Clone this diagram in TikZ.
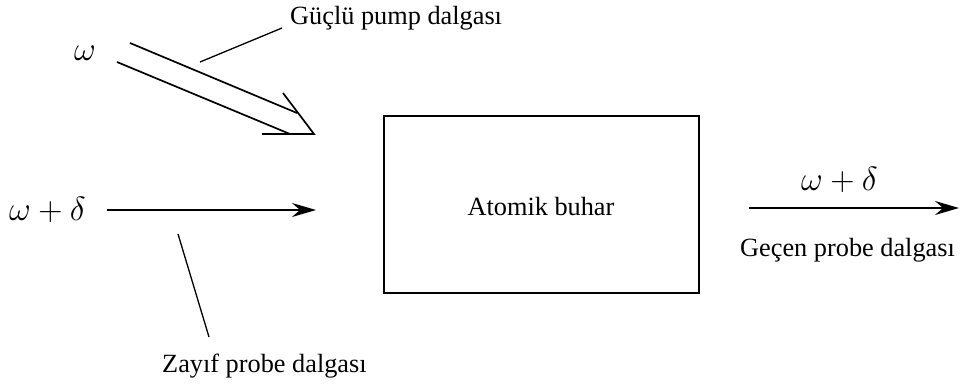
\documentclass[tikz,border=0pt]{standalone}
\usepackage{graphicx}
\usepackage{fontspec}
\setmainfont{Liberation Serif}
\usetikzlibrary{arrows.meta}
\tikzset{
  ln/.style={line width=1.7pt, line cap=butt},
  arr/.style={ln, -{Stealth[length=24pt,width=14pt,inset=8pt]}},
  lead/.style={line width=1.3pt},
  lbl/.style={font=\fontsize{26.3}{30}\selectfont, inner sep=0pt, anchor=base west},
  mth/.style={font=\fontsize{31}{36}\selectfont, inner sep=0pt, anchor=base west},
  boxst/.style={draw, line width=2pt, inner sep=0pt}
}
\newcommand{\mymathbig}[1]{\scalebox{1.35}{$#1$}}
\begin{document}
\begin{tikzpicture}[x=1pt,y=-1pt]
\useasboundingbox (0,0) rectangle (964,389);
% box
\node[boxst, minimum width=315pt, minimum height=177pt] (box) at (541.5,204.5) {};
\node[lbl, anchor=base] (boxtxt) at (541,215) {Atomik buhar};
% pump wave (double arrow)
\node[mth] (w) at (74,60) {\mymathbig{\omega}};
\coordinate (p1s) at (130,43);
\coordinate (p1e) at (297,113);
\coordinate (p2s) at (117,62);
\coordinate (p2e) at (290,134);
\coordinate (hA) at (283,93);
\coordinate (hT) at (314,134);
\coordinate (hB) at (262,134);
\draw[ln] (p1s) -- (p1e);
\draw[ln] (p2s) -- (p2e);
\draw[ln, line join=miter] (hA) -- (hT) -- (hB);
\node[lbl] (pump) at (290,24) {Güçlü pump dalgası};
\coordinate (pl1) at (200,62);
\coordinate (pl2) at (282,28);
\draw[lead] (pl1) -- (pl2);
% probe in
\node[mth] (wd1) at (9,220) {\mymathbig{\omega+\delta}};
\coordinate (a1s) at (107,210);
\coordinate (a1e) at (316,210);
\draw[arr] (a1s) -- (a1e);
\coordinate (zl1) at (178,234);
\coordinate (zl2) at (209,337);
\draw[lead] (zl1) -- (zl2);
\node[lbl] (zayif) at (162,372) {Zayıf probe dalgası};
% probe out
\coordinate (a2s) at (749,208);
\coordinate (a2e) at (959,208);
\draw[arr] (a2s) -- (a2e);
\node[mth] (wd2) at (801,190) {\mymathbig{\omega+\delta}};
\node[lbl] (gecen) at (740,256) {Geçen probe dalgası};
\end{tikzpicture}
\end{document}
